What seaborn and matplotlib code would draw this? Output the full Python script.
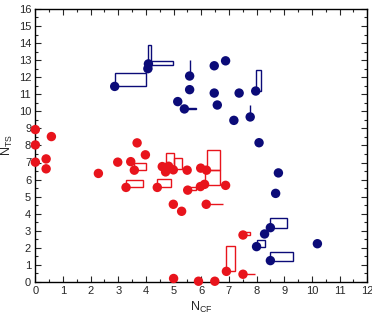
import numpy as np
import pandas as pd
import seaborn as sns
import matplotlib.pyplot as plt
from matplotlib.patches import Rectangle
from matplotlib.ticker import MultipleLocator

# points
blue_x = [2.87, 4.07, 4.09, 5.15, 5.39, 5.58, 5.58, 6.47, 6.88, 6.47, 6.58, 7.18,
          7.37, 7.77, 7.97, 8.09, 8.79, 8.69, 8.50, 8.29, 8.00, 10.2, 8.50]
blue_y = [11.46, 12.50, 12.78, 10.57, 10.14, 12.07, 11.27, 12.67, 12.96, 11.07, 10.37, 9.47,
          11.07, 9.67, 11.19, 8.16, 6.39, 5.19, 3.18, 2.81, 2.07, 2.24, 1.25]

red_x = [0.0, 0.0, 0.0, 0.58, 0.39, 0.39, 2.28, 2.98, 3.28, 3.45, 3.68, 3.98, 3.58,
         4.41, 4.59, 4.71, 4.82, 4.99, 5.49, 4.99, 5.29, 5.51, 5.97, 6.12, 5.98, 6.19,
         6.18, 6.88, 7.51, 6.91, 7.51, 5.00, 5.90, 6.49]
red_y = [8.93, 8.03, 7.02, 8.52, 7.21, 6.63, 6.36, 7.02, 5.54, 7.05, 8.15, 7.45, 6.55,
         5.54, 6.76, 6.45, 6.78, 6.57, 6.55, 4.55, 4.14, 5.38, 5.59, 5.72, 6.67, 6.55,
         4.55, 5.66, 2.75, 0.62, 0.45, 0.20, 0.04, 0.04]

# error boxes: lower-left corner, width, height
blue_box_x = [2.87, 4.07, 4.09, 5.39, 5.58, 7.77, 7.97, 8.50, 8.00, 8.50]
blue_box_y = [11.46, 12.50, 12.73, 10.14, 12.07, 9.67, 11.19, 3.18, 2.07, 1.25]
blue_box_w = [1.12, 0.12, 0.90, 0.41, 0.0, 0.0, 0.20, 0.60, 0.31, 0.80]
blue_box_h = [0.80, 1.36, 0.21, 0.04, 0.95, 0.68, 1.21, 0.56, 0.39, 0.49]

red_box_x = [3.28, 3.58, 4.41, 4.71, 5.00, 5.51, 6.19, 6.12, 6.18, 7.51, 6.91, 7.51, 0.58]
red_box_y = [5.54, 6.55, 5.54, 6.78, 6.59, 5.38, 6.55, 5.71, 4.55, 2.75, 0.62, 0.45, 8.52]
red_box_w = [0.61, 0.42, 0.49, 0.29, 0.30, 0.31, 0.50, 0.57, 0.60, 0.27, 0.30, 0.45, 0.0]
red_box_h = [0.42, 0.40, 0.52, 0.78, 0.68, 0.16, 1.21, 0.84, 0.0, 0.19, 1.50, 0.0, 0.12]

BLUE = '#0b0b78'
RED = '#e8141c'

df = pd.concat([
    pd.DataFrame({'ncf': blue_x, 'nts': blue_y, 'group': 'blue'}),
    pd.DataFrame({'ncf': red_x, 'nts': red_y, 'group': 'red'}),
])

sns.set_style("ticks")
plt.rcParams['font.family'] = ['Liberation Sans', 'DejaVu Sans']
plt.rcParams['mathtext.default'] = 'regular'

fig, ax = plt.subplots(figsize=(3.72, 3.2), dpi=100)
fig.subplots_adjust(left=0.095, right=0.987, bottom=0.119, top=0.972)

# boxes behind the dots
for bx, by, bw, bh, col in [(blue_box_x, blue_box_y, blue_box_w, blue_box_h, BLUE),
                            (red_box_x, red_box_y, red_box_w, red_box_h, RED)]:
    for x0, y0, w, h in zip(bx, by, bw, bh):
        ax.add_patch(Rectangle((x0, y0), w, h, fill=False, edgecolor=col,
                               linewidth=1.0, zorder=2))

sns.scatterplot(data=df, x='ncf', y='nts', hue='group',
                palette={'blue': BLUE, 'red': RED}, s=46, linewidth=0,
                legend=False, ax=ax, zorder=3, clip_on=False)

ax.set_xlim(0, 12)
ax.set_ylim(0, 16)
ax.xaxis.set_major_locator(MultipleLocator(1))
ax.yaxis.set_major_locator(MultipleLocator(1))
ax.xaxis.set_minor_locator(MultipleLocator(0.5))
ax.yaxis.set_minor_locator(MultipleLocator(0.5))
ax.tick_params(which='both', direction='in', top=True, right=True, width=0.8,
               labelsize=8, pad=3)
ax.tick_params(which='major', length=4)
ax.tick_params(which='minor', length=2.5)
for sp in ax.spines.values():
    sp.set_linewidth(1.0)
    sp.set_color('black')

ax.set_xlabel('N$_{CF}$', fontsize=9, labelpad=3)
ax.set_ylabel('N$_{TS}$', fontsize=9, labelpad=3)

fig.savefig('out.png', dpi=100)
